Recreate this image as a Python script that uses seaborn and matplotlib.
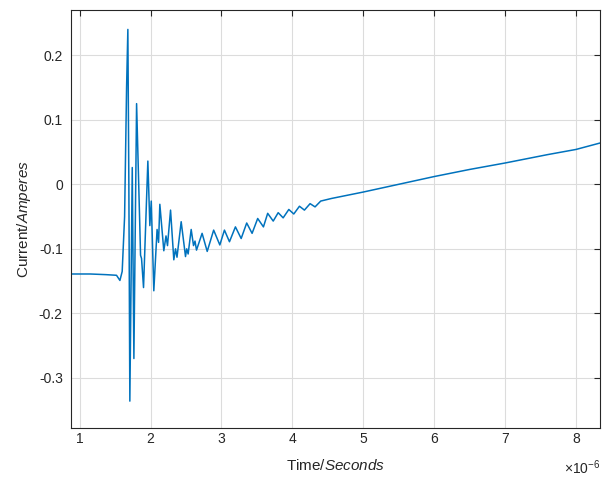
import numpy as np
import pandas as pd
import matplotlib
matplotlib.use("Agg")
import matplotlib.pyplot as plt
import seaborn as sns

# Data (time in microseconds, current in amperes)
time_us = [
    0.88, 1.15, 1.37, 1.52, 1.568, 1.60, 1.634, 1.662, 1.680, 1.694,
    1.708, 1.742, 1.765, 1.803, 1.845, 1.859, 1.873, 1.901, 1.962, 1.990,
    2.010, 2.046, 2.092, 2.113, 2.131, 2.187, 2.218, 2.239, 2.282, 2.328,
    2.352, 2.373, 2.432, 2.493, 2.51, 2.53, 2.573, 2.606, 2.627, 2.648,
    2.727, 2.799, 2.890, 2.977, 3.042, 3.113, 3.197, 3.278, 3.356, 3.432,
    3.511, 3.592, 3.652, 3.73, 3.80, 3.87, 3.95, 4.02, 4.10, 4.17,
    4.25, 4.32, 4.40, 4.55, 5.0, 5.5, 6.0, 6.5, 7.0, 7.6,
    8.0, 8.34,
]
current_a = [
    -0.139, -0.139, -0.140, -0.141, -0.149, -0.135, -0.05, 0.15, 0.24, 0.0,
    -0.336, 0.026, -0.27, 0.125, -0.05, -0.11, -0.115, -0.16, 0.036, -0.064,
    -0.026, -0.165, -0.07, -0.09, -0.031, -0.103, -0.08, -0.095, -0.040, -0.117,
    -0.10, -0.113, -0.058, -0.112, -0.100, -0.108, -0.070, -0.095, -0.088, -0.102,
    -0.076, -0.104, -0.071, -0.094, -0.071, -0.089, -0.066, -0.084, -0.060, -0.076,
    -0.053, -0.066, -0.045, -0.057, -0.044, -0.052, -0.039, -0.046, -0.034, -0.040,
    -0.030, -0.035, -0.026, -0.022, -0.012, 0.0, 0.012, 0.023, 0.033, 0.046,
    0.054, 0.064,
]
x_ticks_us = [1, 2, 3, 4, 5, 6, 7, 8]
y_ticks = [-0.3, -0.2, -0.1, 0, 0.1, 0.2]
y_tick_labels = ["-0.3", "-0.2", "-0.1", "0", "0.1", "0.2"]

df = pd.DataFrame({"time": np.array(time_us) * 1e-6, "current": current_a})

sns.set_style("whitegrid")
plt.rcParams["font.family"] = ["Liberation Sans", "DejaVu Sans"]
plt.rcParams["axes.unicode_minus"] = False
plt.rcParams["mathtext.fontset"] = "custom"
plt.rcParams["mathtext.rm"] = "Liberation Sans"
plt.rcParams["mathtext.it"] = "Liberation Sans:italic"

fig = plt.figure(figsize=(6.08, 4.79), dpi=100)
ax = fig.add_axes([0.117, 0.106, 0.870, 0.873])

sns.lineplot(data=df, x="time", y="current", ax=ax, color="#0072BD",
             linewidth=1.1, sort=False, estimator=None)

ax.set_xlim(0.88e-6, 8.34e-6)
ax.set_ylim(-0.378, 0.270)
ax.set_xticks(np.array(x_ticks_us) * 1e-6)
ax.set_xticklabels([str(v) for v in x_ticks_us])
ax.set_yticks(y_ticks)
ax.set_yticklabels(y_tick_labels)

ax.grid(True, color="#dcdcdc", linewidth=0.8)
for side in ["top", "bottom", "left", "right"]:
    ax.spines[side].set_visible(True)
    ax.spines[side].set_color("#262626")
    ax.spines[side].set_linewidth(0.8)
ax.tick_params(direction="in", length=4, width=0.8, top=True, right=True,
               colors="#262626", labelsize=10)
ax.tick_params(axis="x", pad=3)
ax.tick_params(axis="y", pad=6)

# exponent label like MATLAB's, below the right end of the x axis
ax.text(1.0, -0.095, "$\\times\\mathregular{10^{-6}}$", transform=ax.transAxes,
        ha="right", va="center", fontsize=10, color="#262626")

ax.set_xlabel("Time/$\\mathit{Seconds}$", fontsize=11, color="#262626", labelpad=8)
ax.set_ylabel("Current/$\\mathit{Amperes}$", fontsize=11, color="#262626", labelpad=4)

fig.savefig("out.png", dpi=100, facecolor="white")
